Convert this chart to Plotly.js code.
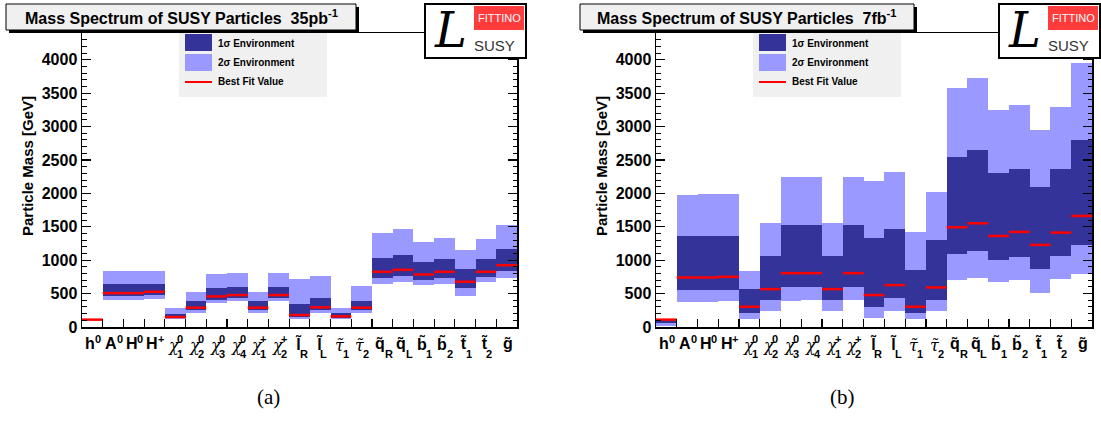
<!DOCTYPE html>
<html><head><meta charset="utf-8">
<script src="https://cdn.plot.ly/plotly-3.0.1.min.js"></script>
<style>html,body{margin:0;padding:0;background:#fff}</style>
</head><body><div id="chart" style="width:1101px;height:421px"></div>
<script>
// ---- categories (particle labels) ----
const labelBase = ['h','A','H','H','χ','χ','χ','χ','χ','χ','l̃','l̃','τ̃','τ̃','q̃','q̃','b̃','b̃','t̃','t̃','g̃'];
const labelSup  = ['0','0','0','+','0','0','0','0','+','+','','','','','','','','','','',''];
const labelSub  = ['','','','','1','2','3','4','1','2','R','L','1','2','R','L','1','2','1','2',''];

// ---- panel (a): 35 pb^-1 ----
const best35 = [110, 507, 507, 527, 149, 289, 458, 478, 289, 478, 179, 294, 159, 289, 826, 856, 786, 826, 677, 826, 925];
const lo1_35 = [108, 463, 463, 473, 129, 259, 408, 438, 259, 438, 149, 259, 134, 259, 731, 761, 706, 731, 582, 746, 841];
const hi1_35 = [113, 642, 642, 642, 199, 393, 582, 597, 393, 597, 343, 433, 204, 393, 1030, 1075, 970, 1015, 866, 1015, 1164];
const lo2_35 = [105, 408, 408, 423, 114, 214, 358, 393, 214, 393, 119, 214, 119, 214, 647, 677, 632, 647, 468, 677, 731];
const hi2_35 = [116, 836, 836, 836, 284, 522, 791, 806, 522, 806, 716, 761, 284, 612, 1403, 1463, 1269, 1328, 1149, 1313, 1522];

// ---- panel (b): 7 fb^-1 ----
const best7 = [110, 741, 741, 751, 303, 567, 806, 806, 567, 806, 478, 627, 303, 592, 1493, 1552, 1363, 1423, 1229, 1413, 1662];
const lo1_7 = [60, 557, 557, 557, 209, 403, 597, 597, 403, 597, 299, 433, 209, 403, 1090, 1134, 1000, 1045, 866, 1060, 1224];
const hi1_7 = [115, 1363, 1363, 1363, 567, 1060, 1522, 1522, 1060, 1522, 1328, 1463, 851, 1298, 2537, 2642, 2298, 2358, 2090, 2358, 2806];
const lo2_7 = [15, 378, 378, 393, 124, 239, 393, 408, 239, 408, 134, 239, 124, 239, 701, 731, 672, 701, 507, 716, 791];
const hi2_7 = [125, 1970, 1985, 1985, 836, 1552, 2239, 2239, 1552, 2239, 2179, 2313, 1418, 2015, 3582, 3731, 3254, 3328, 2955, 3298, 3955];

const titles = ['Mass Spectrum of SUSY Particles  35pb<sup>-1</sup>', 'Mass Spectrum of SUSY Particles  7fb<sup>-1</sup>'];
const captions = ['(a)', '(b)'];
const legendLabels = ['1σ Environment', '2σ Environment', 'Best Fit Value'];
const yTitle = 'Particle Mass [GeV]';

// ---- layout helpers ----
const W = 1101, H = 421;
const PX = x => x / W, PY = y => 1 - y / H;
const C1 = '#333399', C2 = '#9999FF', CR = '#FF0000', GRAY = '#F0F0F0';
const n = labelBase.length;
const idx = labelBase.map((_, i) => i);
const bounds = idx.slice(1).map(i => i - 0.5);

const panels = [
  {best: best35, lo1: lo1_35, hi1: hi1_35, lo2: lo2_35, hi2: hi2_35, dx: 0, xa: 'x', ya: 'y', tb: [6, 356], cap: 268},
  {best: best7, lo1: lo1_7, hi1: hi1_7, lo2: lo2_7, hi2: hi2_7, dx: 574, xa: 'x2', ya: 'y2', tb: [580, 914], cap: 842}
];

const traces = [], shapes = [], annotations = [];
const SANS = 'Liberation Sans, Arial, sans-serif';
const SERIF = 'Liberation Serif, Times New Roman, serif';
const GREEKF = 'DejaVu Serif, serif';

const baseW = {'h': 9.8, 'A': 11.6, 'H': 11.6, 'χ': 9, 'l̃': 4.5, 'τ̃': 8, 'q̃': 9.8, 'b̃': 9.8, 't̃': 5.3, 'g̃': 9.8};
const isGreek = s => s[0] === 'χ' || s[0] === 'τ';

panels.forEach((p, k) => {
  traces.push({type: 'bar', x: idx, base: p.lo2, y: p.hi2.map((v, i) => v - p.lo2[i]), width: 1,
    marker: {color: C2, line: {width: 0}}, xaxis: p.xa, yaxis: p.ya, hoverinfo: 'skip', showlegend: false});
  traces.push({type: 'bar', x: idx, base: p.lo1, y: p.hi1.map((v, i) => v - p.lo1[i]), width: 1,
    marker: {color: C1, line: {width: 0}}, xaxis: p.xa, yaxis: p.ya, hoverinfo: 'skip', showlegend: false});
  const lx = [], ly = [];
  p.best.forEach((v, i) => { lx.push(i - 0.5, i + 0.5, null); ly.push(v, v, null); });
  traces.push({type: 'scatter', mode: 'lines', x: lx, y: ly, line: {color: CR, width: 2.5},
    xaxis: p.xa, yaxis: p.ya, hoverinfo: 'skip', showlegend: false, connectgaps: false});

  const d = p.dx;
  // title box with shadow
  shapes.push({type: 'rect', xref: 'paper', yref: 'paper', x0: PX(p.tb[0] + 3), x1: PX(p.tb[1] + 3), y0: PY(33), y1: PY(7),
    fillcolor: '#000', line: {width: 0}});
  shapes.push({type: 'rect', xref: 'paper', yref: 'paper', x0: PX(p.tb[0]), x1: PX(p.tb[1]), y0: PY(30), y1: PY(4),
    fillcolor: GRAY, line: {color: '#000', width: 1}});
  annotations.push({xref: 'paper', yref: 'paper', x: PX((p.tb[0] + p.tb[1]) / 2), y: PY(17), text: titles[k],
    showarrow: false, xanchor: 'center', yanchor: 'middle', font: {family: SANS, size: 16, color: '#000', weight: 'bold'}});

  // legend
  shapes.push({type: 'rect', xref: 'paper', yref: 'paper', x0: PX(179 + d), x1: PX(327 + d), y0: PY(97), y1: PY(33),
    fillcolor: GRAY, line: {width: 0}});
  shapes.push({type: 'rect', xref: 'paper', yref: 'paper', x0: PX(185 + d), x1: PX(212 + d), y0: PY(51), y1: PY(34),
    fillcolor: C1, line: {width: 0}});
  shapes.push({type: 'rect', xref: 'paper', yref: 'paper', x0: PX(185 + d), x1: PX(212 + d), y0: PY(71), y1: PY(54),
    fillcolor: C2, line: {width: 0}});
  shapes.push({type: 'line', xref: 'paper', yref: 'paper', x0: PX(185 + d), x1: PX(212 + d), y0: PY(82), y1: PY(82),
    line: {color: CR, width: 2}});
  [43, 62, 82].forEach((yy, j) => annotations.push({xref: 'paper', yref: 'paper', x: PX(216 + d), y: PY(yy),
    text: legendLabels[j], showarrow: false, xanchor: 'left', yanchor: 'middle',
    font: {family: SANS, size: 10, color: '#000', weight: 'bold'}}));

  // logo
  shapes.push({type: 'rect', xref: 'paper', yref: 'paper', x0: PX(425 + d), x1: PX(526 + d), y0: PY(58), y1: PY(4),
    fillcolor: '#fff', line: {color: '#000', width: 2}});
  shapes.push({type: 'rect', xref: 'paper', yref: 'paper', x0: PX(474 + d), x1: PX(524 + d), y0: PY(30), y1: PY(6),
    fillcolor: '#FF3B3B', line: {width: 0}});
  annotations.push({xref: 'paper', yref: 'paper', x: PX(499 + d), y: PY(18), text: 'FITTINO', showarrow: false,
    xanchor: 'center', yanchor: 'middle', font: {family: SANS, size: 11, color: '#fff'}});
  annotations.push({xref: 'paper', yref: 'paper', x: PX(450 + d), y: PY(30), text: '<i>L</i>', showarrow: false,
    xanchor: 'center', yanchor: 'middle', font: {family: GREEKF, size: 48, color: '#000'}});
  annotations.push({xref: 'paper', yref: 'paper', x: PX(494 + d), y: PY(45), text: 'SUSY', showarrow: false,
    xanchor: 'center', yanchor: 'middle', font: {family: SANS, size: 15, color: '#333'}});

  // y-axis title
  annotations.push({xref: 'paper', yref: 'paper', x: PX(27 + d), y: PY(166), text: yTitle, textangle: -90,
    showarrow: false, xanchor: 'center', yanchor: 'middle', font: {family: SANS, size: 15, color: '#000', weight: 'bold'}});

  // caption
  annotations.push({xref: 'paper', yref: 'paper', x: PX(p.cap), y: PY(397), text: captions[k], showarrow: false,
    xanchor: 'center', yanchor: 'middle', font: {family: SERIF, size: 21, color: '#000'}});

  // x tick labels (base + stacked sup/sub)
  labelBase.forEach((b, i) => {
    const bw = baseW[b] || 9.8;
    const hasS = labelSup[i] || labelSub[i];
    const w = bw + (hasS ? 6.5 : 0);
    const greek = isGreek(b);
    annotations.push({xref: p.xa, yref: 'paper', x: i, y: PY(greek ? 345 : 343), text: b, showarrow: false,
      xanchor: 'left', xshift: -w / 2 - 1, yanchor: 'middle',
      font: greek ? {family: GREEKF, size: 16, color: '#000', style: 'italic'} : {family: SANS, size: 16, color: '#000', weight: 'bold'}});
    if (labelSup[i]) annotations.push({xref: p.xa, yref: 'paper', x: i, y: PY(339), text: labelSup[i], showarrow: false,
      xanchor: 'left', xshift: -w / 2 + bw - 1, yanchor: 'middle', font: {family: SANS, size: 11, color: '#000', weight: 'bold'}});
    if (labelSub[i]) annotations.push({xref: p.xa, yref: 'paper', x: i, y: PY(354), text: labelSub[i], showarrow: false,
      xanchor: 'left', xshift: -w / 2 + bw - 1, yanchor: 'middle', font: {family: SANS, size: 11, color: '#000', weight: 'bold'}});
  });
});

function xaxisCfg(d0, d1, anchor) {
  return {domain: [d0, d1], anchor: anchor, range: [-0.5, n - 0.5], tickmode: 'array', tickvals: bounds,
    showticklabels: false, ticks: 'inside', ticklen: 8, tickwidth: 1.2, tickcolor: '#000',
    showline: true, linewidth: 1.5, linecolor: '#000', mirror: true, showgrid: false, zeroline: false, fixedrange: true};
}
function yaxisCfg(anchor) {
  return {domain: [PY(327), PY(33)], anchor: anchor, range: [0, 4400], tickmode: 'linear', tick0: 0, dtick: 500,
    ticks: 'inside', ticklen: 9, tickwidth: 1.2, tickcolor: '#000', showline: true, linewidth: 1.5, linecolor: '#000',
    mirror: 'ticks', showgrid: false, zeroline: false, fixedrange: true,
    tickfont: {family: SANS, size: 16, color: '#000', weight: 'bold'},
    minor: {dtick: 100, ticks: 'inside', ticklen: 4.5, tickwidth: 1, tickcolor: '#000', showgrid: false}};
}

const layout = {
  width: W, height: H, margin: {l: 0, r: 0, t: 0, b: 0}, paper_bgcolor: '#fff', plot_bgcolor: '#fff',
  barmode: 'overlay', bargap: 0, showlegend: false,
  xaxis: xaxisCfg(PX(82), PX(517), 'y'), yaxis: yaxisCfg('x'),
  xaxis2: xaxisCfg(PX(656), PX(1092), 'y2'), yaxis2: yaxisCfg('x2'),
  shapes: shapes, annotations: annotations
};
Plotly.newPlot('chart', traces, layout, {displayModeBar: false, staticPlot: true});
</script></body></html>
